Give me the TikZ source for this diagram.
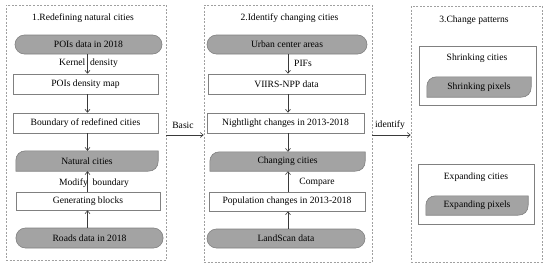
\documentclass[tikz,border=0pt]{standalone}
\usepackage{fontspec}
\setmainfont{Liberation Serif}
\usetikzlibrary{arrows.meta,backgrounds}
\definecolor{fillg}{HTML}{A3A3A3}
\definecolor{edgeg}{HTML}{808080}
\definecolor{dashg}{HTML}{A0A0A0}
\definecolor{arrg}{HTML}{3A3A3A}
\newcommand\cutfill[1]{%
  \draw[draw=edgeg, fill=fillg, line width=0.6pt]
    (#1.south west) -- ([yshift=-10pt]#1.north west)
    .. controls ([yshift=-4pt]#1.north west) and ([xshift=4pt]#1.north west) .. ([xshift=10pt]#1.north west)
    -- (#1.north east) -- ([yshift=10pt]#1.south east)
    .. controls ([yshift=4pt]#1.south east) and ([xshift=-4pt]#1.south east) .. ([xshift=-10pt]#1.south east) -- cycle;}
\begin{document}
\begin{tikzpicture}[x=1pt,y=-1pt,
  every node/.style={font=\fontsize{9.6}{11}\selectfont, inner sep=0pt},
  panel/.style={draw=dashg, dash pattern=on 2pt off 1.5pt, line width=0.6pt},
  whitebox/.style={draw=edgeg, fill=white, line width=0.6pt},
  stadium/.style={draw=edgeg, fill=fillg, rounded corners=9.5pt, line width=0.6pt},
  arr/.style={draw=arrg, line width=0.6pt, -{Straight Barb[length=3pt,width=5pt]}}]
\useasboundingbox (0,0) rectangle (550,268);
% panels
\node[panel, minimum width=160pt, minimum height=255pt] (p1) at (86,132.5) {};
\node[panel, minimum width=168pt, minimum height=257pt] (p2) at (288,133.5) {};
\node[panel, minimum width=131pt, minimum height=256pt] (p3) at (476.5,134) {};
\node (t1) at (83,18) {1.Redefining natural cities};
\node (t2) at (289.5,18) {2.Identify changing cities};
\node (t3) at (474,20) {3.Change patterns};
% panel 1
\node[stadium, minimum width=147pt, minimum height=19pt] (poi) at (88.5,44.5) {POIs data in 2018};
\node[whitebox, minimum width=145pt, minimum height=20pt] (dens) at (85.5,84) {POIs density map};
\node[whitebox, minimum width=145pt, minimum height=20pt] (bound) at (85.5,123) {Boundary of redefined cities};
\node[minimum width=142pt, minimum height=20pt] (nat) at (87,161) {Natural cities};
\node[whitebox, minimum width=144pt, minimum height=18pt] (blocks) at (88,201) {Generating blocks};
\node[stadium, minimum width=147pt, minimum height=20pt] (roads) at (89.5,238) {Roads data in 2018};
% panel 2
\node[stadium, minimum width=160pt, minimum height=19pt] (urban) at (287,44.5) {Urban center areas};
\node[whitebox, minimum width=157pt, minimum height=20pt] (viirs) at (286.5,84) {VIIRS-NPP data};
\node[whitebox, minimum width=157pt, minimum height=20pt] (night) at (285.5,123) {Nightlight changes in 2013-2018};
\node[minimum width=155pt, minimum height=19pt] (chg) at (287.5,161.5) {Changing cities};
\node[whitebox, minimum width=156pt, minimum height=19pt] (pop) at (287,201.5) {Population changes in 2013-2018};
\node[stadium, minimum width=158pt, minimum height=19pt] (land) at (286,238.5) {LandScan data};
% panel 3
\node[whitebox, minimum width=117pt, minimum height=59pt] (shc) at (477.5,75.5) {};
\node (shct) at (477,58) {Shrinking cities};
\node[whitebox, minimum width=116pt, minimum height=60pt] (exc) at (476,194) {};
\node (exct) at (476,177) {Expanding cities};
\node[minimum width=104pt, minimum height=20pt] (shp) at (479,87) {};
\node[minimum width=102pt, minimum height=19pt] (exp) at (477,205.5) {};
\cutfill{shp}
\node (shpt) at (shp) {Shrinking pixels};
\cutfill{exp}
\node (expt) at (exp) {Expanding pixels};
\begin{scope}[on background layer]
  \fill[white] (0,0) rectangle (550,268);
  \cutfill{nat}
  \cutfill{chg}
\end{scope}
% arrows panel 1
\coordinate (ax1) at (87.5,0);
\draw[arr] (poi.south -| ax1) -- (dens.north -| ax1);
\draw[arr] (dens.south -| ax1) -- (bound.north -| ax1);
\draw[arr] (bound.south -| ax1) -- (nat.north -| ax1);
\draw[arr] (blocks.north -| ax1) -- (nat.south -| ax1);
\draw[arr] (roads.north -| ax1) -- (blocks.south -| ax1);
\node (kd) at (88.5,63) {Kernel~ density};
\node (mb) at (94,183) {Modify~ boundary};
% arrows panel 2
\coordinate (ax2) at (288,0);
\draw[arr] (urban.south -| ax2) -- (viirs.north -| ax2);
\draw[arr] (viirs.south -| ax2) -- (night.north -| ax2);
\draw[arr] (night.south -| ax2) -- (chg.north -| ax2);
\draw[arr] (pop.north -| ax2) -- (chg.south -| ax2);
\draw[arr] (land.north -| ax2) -- (pop.south -| ax2);
\node (pifs) at (303,63) {PIFs};
\node (cmp) at (317,182) {Compare};
% between panels
\coordinate (ay) at (0,135);
\draw[arr] (p1.east |- ay) -- (p2.west |- ay);
\draw[arr] (p2.east |- ay) -- (p3.west |- ay);
\node (basic) at (183,125) {Basic};
\node (ident) at (390,125) {identify};
\end{tikzpicture}
\end{document}
